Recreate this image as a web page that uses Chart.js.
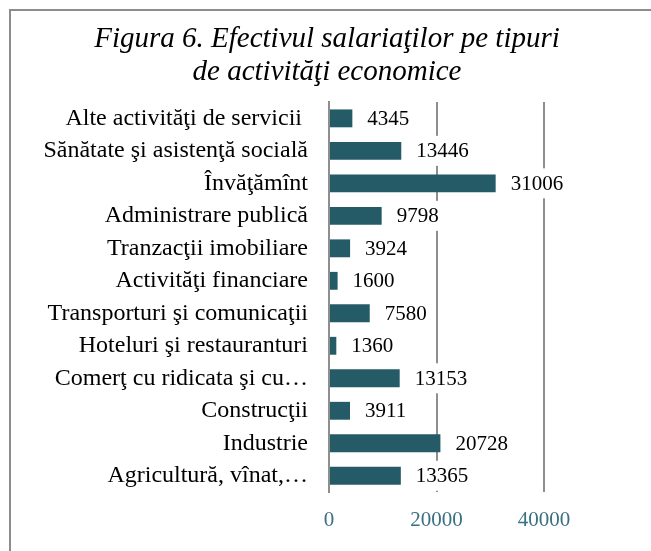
<!DOCTYPE html>
<html>
<head>
<meta charset="utf-8">
<script src="https://cdn.jsdelivr.net/npm/chart.js@4.4.1/dist/chart.umd.min.js"></script>
<style>
  body { margin: 0; background: #fff; overflow: hidden; }
  #frame { position: absolute; left: 9px; top: 9px; width: 700px; height: 600px;
           border-left: 2px solid #8c8c8c; border-top: 2px solid #8c8c8c; }
  #wrap { position: absolute; left: 0; top: 0; width: 651px; height: 551px; }
</style>
</head>
<body>
<div id="frame"></div>
<div id="wrap"><canvas id="salariatiChart"></canvas></div>
<script>
const ctx = document.getElementById('salariatiChart').getContext('2d');

// Categorii (de sus in jos)
const categorii = [
    'Alte activităţi de servicii ',
    'Sănătate şi asistenţă socială',
    'Învăţămînt',
    'Administrare publică',
    'Tranzacţii imobiliare',
    'Activităţi financiare',
    'Transporturi şi comunicaţii',
    'Hoteluri şi restauranturi',
    'Comerţ cu ridicata şi cu…',
    'Construcţii',
    'Industrie',
    'Agricultură, vînat,…'
];

// Efectivul salariatilor
const efectiv = [4345, 13446, 31006, 9798, 3924, 1600, 7580, 1360, 13153, 3911, 20728, 13365];

// Etichete axa X
const tickuriX = [0, 20000, 40000];

const titlu = ['Figura 6. Efectivul salariaţilor pe tipuri', 'de activităţi economice'];

const serif = "'Liberation Serif', 'Times New Roman', serif";

// Etichete de valoare cu fundal alb (acopera liniile de grila)
const valoriPlugin = {
    id: 'valori',
    beforeDraw(chart) {
        // titlul centrat pe toata latimea, nu doar pe zona graficului
        if (chart.titleBlock) {
            chart.titleBlock.left = 0;
            chart.titleBlock.right = chart.width + 3;
        }
    },
    afterDatasetsDraw(chart) {
        const c = chart.ctx;
        const meta = chart.getDatasetMeta(0);
        c.save();
        c.font = '21px ' + serif;
        c.textBaseline = 'middle';
        c.textAlign = 'left';
        meta.data.forEach((bar, i) => {
            const txt = String(chart.data.datasets[0].data[i]);
            const w = c.measureText(txt).width;
            const x = bar.x + 15;
            c.fillStyle = '#ffffff';
            c.fillRect(x - 4, bar.y - 15, w + 8, 30);
            c.fillStyle = '#000000';
            c.fillText(txt, x, bar.y + 1);
        });
        c.restore();
    }
};

new Chart(ctx, {
    type: 'bar',
    data: {
        labels: categorii,
        datasets: [{
            data: efectiv,
            backgroundColor: '#245b67',
            borderWidth: 0,
            barPercentage: 0.55,
            categoryPercentage: 1
        }]
    },
    options: {
        indexAxis: 'y',
        responsive: true,
        maintainAspectRatio: false,
        animation: false,
        layout: { padding: { left: 0, right: 107, top: 0, bottom: 0 } },
        plugins: {
            legend: { display: false },
            tooltip: { enabled: false },
            title: {
                display: true,
                text: titlu,
                color: '#000000',
                font: { family: serif, size: 29, style: 'italic', weight: 'normal', lineHeight: 1.14 },
                padding: { top: 23, bottom: 13 }
            }
        },
        scales: {
            x: {
                min: 0,
                max: 40000,
                afterBuildTicks: (scale) => { scale.ticks = tickuriX.map(v => ({ value: v })); },
                afterFit: (scale) => { scale.height = 59; },
                grid: { color: '#8e8e8e', lineWidth: 2, drawTicks: false },
                border: { display: false },
                ticks: {
                    color: '#3b7083',
                    padding: 16,
                    font: { family: serif, size: 21 },
                    callback: (v) => String(v)
                }
            },
            y: {
                afterFit: (scale) => { scale.width = 329; },
                grid: { display: false, drawTicks: false },
                border: { display: true, color: '#8e8e8e', width: 2 },
                ticks: {
                    color: '#000000',
                    padding: 21,
                    autoSkip: false,
                    font: { family: serif, size: 24 }
                }
            }
        }
    },
    plugins: [valoriPlugin]
});
</script>
</body>
</html>
